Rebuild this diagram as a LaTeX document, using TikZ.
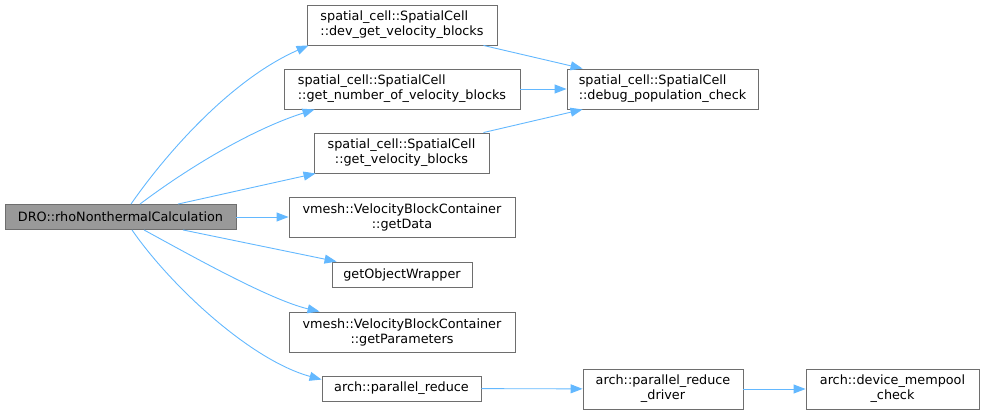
\documentclass[tikz,border=0pt]{standalone}
\usepackage{fontspec}
\setmainfont{DejaVu Sans}
\usepackage{xcolor}
\usetikzlibrary{arrows.meta,positioning}
\definecolor{edgeblue}{RGB}{99,184,255}
\definecolor{boxgray}{RGB}{110,110,110}
\definecolor{rootgray}{RGB}{153,153,153}

\begin{document}
\begin{tikzpicture}[
  x=1pt,y=-1pt,
  box/.style={draw=boxgray,line width=0.9pt,fill=white,inner sep=0pt,
    minimum height=40pt,align=center,font=\fontsize{12.8}{15}\selectfont},
  lbox/.style={box,align=left},
  sbox/.style={box,minimum height=25pt},
  arrow/.style={-{Triangle[length=12pt,width=9pt]},draw=edgeblue,line width=0.9pt}
]
\useasboundingbox (0,0) rectangle (983,415);
% caller
\node[sbox,fill=rootgray,minimum width=231pt] (root) at (120.5,217) {DRO::rhoNonthermalCalculation};
% callees
\node[lbox,minimum width=190pt] (devblocks) at (402,25) {spatial\_cell::SpatialCell\\::dev\_get\_velocity\_blocks};
\node[lbox,minimum width=236pt] (numblocks) at (402,89) {spatial\_cell::SpatialCell\\::get\_number\_of\_velocity\_blocks};
\node[box,minimum width=175pt] (velblocks) at (401.5,153) {spatial\_cell::SpatialCell\\::get\_velocity\_blocks};
\node[box,minimum width=226pt] (getdata) at (402,217) {vmesh::VelocityBlockContainer\\::getData};
\node[sbox,minimum width=140pt] (objwrap) at (402,274.5) {getObjectWrapper};
\node[box,minimum width=226pt] (getparams) at (402,332) {vmesh::VelocityBlockContainer\\::getParameters};
\node[sbox,minimum width=159pt] (preduce) at (401.5,388.5) {arch::parallel\_reduce};
\node[lbox,minimum width=191pt] (popcheck) at (662.5,89) {spatial\_cell::SpatialCell\\::debug\_population\_check};
\node[box,minimum width=160pt] (pdriver) at (663,389) {arch::parallel\_reduce\\\_driver};
\node[box,minimum width=173pt] (mempool) at (892.5,389) {arch::device\_mempool\\\_check};
% calls
\draw[arrow] ([xshift=10.5pt]root.north) .. controls (165,155) and (230,80) .. ([xshift=2pt]devblocks.south west);
\draw[arrow] ([xshift=19.5pt]root.north) .. controls (185,170) and (250,130) .. ([xshift=31pt]numblocks.south west);
\draw[arrow] ([xshift=57.5pt]root.north) -- ([xshift=2pt]velblocks.south west);
\draw[arrow] (root) -- (getdata);
\draw[arrow] ([xshift=62.5pt]root.south) -- ([xshift=5pt]objwrap.north west);
\draw[arrow] ([xshift=23.5pt]root.south) .. controls (190,255) and (270,300) .. ([xshift=31pt]getparams.north west);
\draw[arrow] ([xshift=11.5pt]root.south) .. controls (170,285) and (250,360) .. ([yshift=-4pt]preduce.north west);
\draw[arrow] ([xshift=-14pt]devblocks.south east) -- ([xshift=16pt]popcheck.north west);
\draw[arrow] (numblocks) -- (popcheck);
\draw[arrow] ([xshift=-6pt]velblocks.north east) -- ([xshift=16pt]popcheck.south west);
\draw[arrow] (preduce) -- (pdriver);
\draw[arrow] (pdriver) -- (mempool);
\end{tikzpicture}
\end{document}
